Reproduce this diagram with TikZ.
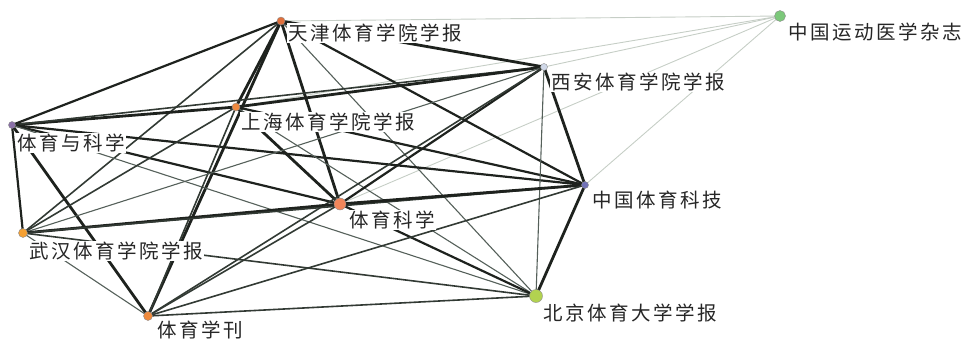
\documentclass[tikz,border=0pt]{standalone}
\usepackage{fontspec}
\newfontfamily\cjk[LetterSpace=13]{Noto Sans CJK SC}
\usetikzlibrary{backgrounds}
\definecolor{cTJ}{HTML}{E0703C}
\definecolor{cSH}{HTML}{F08A40}
\definecolor{cYK}{HTML}{8A70A8}
\definecolor{cXA}{HTML}{D0D8E8}
\definecolor{cZY}{HTML}{7CC87A}
\definecolor{cZK}{HTML}{7272B8}
\definecolor{cTK}{HTML}{F2865A}
\definecolor{cWH}{HTML}{F5A032}
\definecolor{cBJ}{HTML}{B2D250}
\definecolor{cXK}{HTML}{F08A3C}
\definecolor{eDark}{HTML}{1E221E}
\definecolor{eMid}{HTML}{323A34}
\definecolor{eThin}{HTML}{55605A}
\definecolor{eFaint}{HTML}{C6CEC6}
\definecolor{txt}{HTML}{262626}
\tikzset{
  dot/.style={circle,inner sep=0pt,draw=black!45,line width=0.4pt},
  lab/.style={anchor=west,fill=white,inner sep=1pt,text=txt,font=\cjk\fontsize{19.5}{21}\selectfont},
  ethick/.style={draw=eDark,line width=2.8pt,line cap=round},
  ebold/.style={draw=eDark,line width=2.2pt,line cap=round},
  emid/.style={draw=eMid,line width=1.6pt,line cap=round},
  ethin/.style={draw=eThin,line width=1.1pt,line cap=round},
  efaint/.style={draw=eFaint,line width=0.9pt,line cap=round},
}
\begin{document}
\begin{tikzpicture}[x=1pt,y=-1pt]
\useasboundingbox (0,0) rectangle (968,343);
% labels
\node[lab] (ltj) at (287,33) {天津体育学院学报};
\node[lab] (lzy) at (787,32) {中国运动医学杂志};
\node[lab] (lxa) at (550,82) {西安体育学院学报};
\node[lab] (lsh) at (240,122) {上海体育学院学报};
\node[lab] (lyk) at (16,143) {体育与科学};
\node[lab] (lzk) at (591,200) {中国体育科技};
\node[lab] (ltk) at (348,220) {体育科学};
\node[lab] (lwh) at (28,251) {武汉体育学院学报};
\node[lab] (lbj) at (542,313) {北京体育大学学报};
\node[lab] (lxk) at (156,330) {体育学刊};
% dots
\node[dot,fill=cTJ,minimum size=8pt] (tj) at (281,21) {};
\node[dot,fill=cSH,minimum size=8pt] (sh) at (236,107) {};
\node[dot,fill=cYK,minimum size=7pt] (yk) at (12,125) {};
\node[dot,fill=cXA,minimum size=7pt] (xa) at (544,67) {};
\node[dot,fill=cZY,minimum size=11pt] (zy) at (780,16) {};
\node[dot,fill=cZK,minimum size=7pt] (zk) at (585,185) {};
\node[dot,fill=cTK,minimum size=12pt] (tk) at (340,204) {};
\node[dot,fill=cWH,minimum size=9pt] (wh) at (23,233) {};
\node[dot,fill=cBJ,minimum size=13pt] (bj) at (536,296) {};
\node[dot,fill=cXK,minimum size=9pt] (xk) at (148,316) {};
\begin{scope}[on background layer]
% faint edges to ZY
\draw[efaint] (zy.center) -- (tj.center);
\draw[efaint] (zy.center) -- (sh.center);
\draw[efaint] (zy.center) -- (xa.center);
\draw[efaint] (zy.center) -- (tk.center);
\draw[efaint] (zy.center) -- (zk.center);
% TJ
\draw[ebold] (tj.center) -- (yk.center);
\draw[emid] (tj.center) -- (wh.center);
\draw[ethick] (tj.center) -- (sh.center);
\draw[ethick] (tj.center) -- (xk.center);
\draw[ethick] (tj.center) -- (tk.center);
\draw[ethin] (tj.center) -- (bj.center);
\draw[ebold] (tj.center) -- (zk.center);
\draw[ethick] (tj.center) -- (xa.center);
% YK
\draw[ethick] (yk.center) -- (sh.center);
\draw[emid] (yk.center) -- (xa.center);
\draw[ebold] (yk.center) -- (wh.center);
\draw[ethick] (yk.center) -- (xk.center);
\draw[ebold] (yk.center) -- (tk.center);
\draw[ebold] (yk.center) -- (zk.center);
\draw[ethin] (yk.center) -- (bj.center);
% SH
\draw[ethick] (sh.center) -- (xa.center);
\draw[emid] (sh.center) -- (wh.center);
\draw[ethick] (sh.center) -- (tk.center);
\draw[ebold] (sh.center) -- (zk.center);
\draw[ethin] (sh.center) -- (bj.center);
\draw[emid] (sh.center) -- (xk.center);
% XA
\draw[ethin] (xa.center) -- (wh.center);
\draw[ebold] (xa.center) -- (tk.center);
\draw[emid] (xa.center) -- (xk.center);
\draw[ethick] (xa.center) -- (zk.center);
\draw[ethin] (xa.center) -- (bj.center);
% WH
\draw[ethick] (wh.center) -- (tk.center);
\draw[emid] (wh.center) -- (zk.center);
\draw[emid] (wh.center) -- (bj.center);
\draw[ethin] (wh.center) -- (xk.center);
% TK
\draw[ethick] (tk.center) -- (zk.center);
\draw[emid] (tk.center) -- (xk.center);
\draw[ebold] (tk.center) -- (bj.center);
% ZK, XK
\draw[emid] (zk.center) -- (xk.center);
\draw[ethick] (zk.center) -- (bj.center);
\draw[emid] (xk.center) -- (bj.center);
\end{scope}
\end{tikzpicture}
\end{document}
